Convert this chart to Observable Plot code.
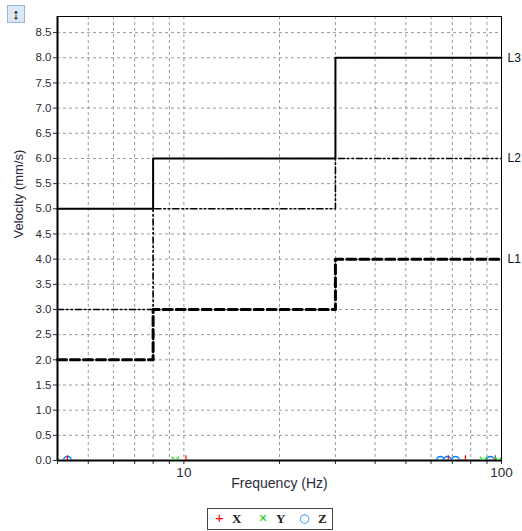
<!DOCTYPE html>
<html>
<head>
<meta charset="utf-8">
<script src="https://cdn.jsdelivr.net/npm/d3@7"></script>
<script src="https://cdn.jsdelivr.net/npm/@observablehq/plot@0.6"></script>
<style>
  html, body { margin: 0; padding: 0; background: #fff; }
  #wrap { position: relative; width: 522px; height: 531px; font-family: "Liberation Sans", Arial, sans-serif; }
  #btn { position: absolute; left: 7px; top: 5px; width: 18px; height: 18px; box-sizing: border-box;
         border: 1px solid #9db7d8; background: #dde8f5; font-size: 15px; font-weight: bold; line-height: 16px; text-align: center; color: #000; }
  #legend { position: absolute; left: 207px; top: 508px; width: 126px; height: 22px; box-sizing: border-box;
            border: 1px solid #444; font-family: "Liberation Serif", "Times New Roman", serif; font-weight: bold; font-size: 13px; }
  #legend span { position: absolute; top: 2px; }
</style>
</head>
<body>
<div id="wrap">
  <div id="chart"></div>
  <div id="btn">↕</div>
  <div id="legend">
    <span style="left:7px;color:#f00;font-family:'Liberation Sans',sans-serif;font-weight:normal;font-size:15px;top:0px">+</span>
    <span style="left:24px;color:#222">X</span>
    <span style="left:51px;color:#0c0;font-family:'Liberation Sans',sans-serif;font-weight:normal;font-size:14px;top:1px">×</span>
    <span style="left:68px;color:#222">Y</span>
    <span style="left:91px;color:#08f;font-family:'DejaVu Sans',sans-serif;font-weight:normal;font-size:12px;top:2px">○</span>
    <span style="left:110px;color:#222">Z</span>
  </div>
</div>
<script>
// Limit lines (frequency Hz, velocity mm/s), stepped
const freqSteps = [4, 8, 30, 100];
const L1 = [2, 3, 4, 4];
const L2 = [3, 5, 6, 6];
const L3 = [5, 6, 8, 8];

// Measured peaks at y = 0
const xFreq = [4.3, 10.15, 68.0, 77.0, 95.7];
const yFreq = [9.4, 87.8, 97.8];
const zFreq = [4.3, 64.2, 67.5, 71.6, 92.3];

const yTicks = d3.range(0, 8.51, 0.5);
const xMinor = [4, 5, 6, 7, 8, 9, 10, 20, 30, 40, 50, 60, 70, 80, 90, 100];
const xLabels = [10, 100];
const yTitle = "Velocity (mm/s)";
const xTitle = "Frequency (Hz)";

const toRows = (vals) => freqSteps.map((f, i) => ({f, v: vals[i]}));
const rows1 = toRows(L1), rows2 = toRows(L2), rows3 = toRows(L3);
const labels = [{name: "L3", v: L3[3]}, {name: "L2", v: L2[3]}, {name: "L1", v: L1[3]}];
const zeroRows = (arr) => arr.map(f => ({f, v: 0}));

const chart = Plot.plot({
  width: 522,
  height: 503,
  marginLeft: 57,
  marginRight: 21,
  marginTop: 16,
  marginBottom: 43,
  style: {fontFamily: "'Liberation Sans', Arial, sans-serif", fontSize: "11px", color: "#2a2a3a", background: "#fff", overflow: "visible"},
  x: {type: "log", domain: [4, 100]},
  y: {domain: [0, 8.82]},
  marks: [
    Plot.gridX(xMinor.filter(d => d > 4 && d < 100), {stroke: "#999", strokeOpacity: 1, strokeDasharray: "3,3"}),
    Plot.gridY(yTicks.filter(d => d > 0), {stroke: "#999", strokeOpacity: 1, strokeDasharray: "3,3"}),
    Plot.axisY(yTicks, {tickFormat: d3.format(".1f"), tickSize: 4, tickPadding: 2, label: null, fontSize: 11.5}),
    Plot.axisX(xMinor, {tickFormat: () => "", tickSize: 4, label: null}),
    Plot.text(xLabels, {x: d => d, text: d => String(d), frameAnchor: "bottom", dy: 16, fontSize: 13.5, fill: "#2a2a3a"}),
    Plot.text([yTitle], {frameAnchor: "left", dx: -39, rotate: -90, fontSize: 13, fill: "#2a2a3a"}),
    Plot.text([xTitle], {frameAnchor: "bottom", dy: 27, fontSize: 14, fill: "#2a2a3a"}),
    Plot.line(rows3, {x: "f", y: "v", curve: "step-after", stroke: "#000", strokeWidth: 2}),
    Plot.line(rows2, {x: "f", y: "v", curve: "step-after", stroke: "#000", strokeWidth: 1.6, strokeDasharray: "6,3,1.5,3,1.5,3"}),
    Plot.line(rows1, {x: "f", y: "v", curve: "step-after", stroke: "#000", strokeWidth: 3, strokeDasharray: "9,4"}),
    Plot.frame({stroke: "#000", strokeWidth: 1}),
    Plot.ruleX([4], {stroke: "#000", strokeWidth: 2}),
    Plot.ruleY([0], {stroke: "#000", strokeWidth: 2}),
    Plot.dot(zeroRows(zFreq), {x: "f", y: "v", r: 4, stroke: "#0a7cff", strokeWidth: 1.5, fill: "none", clip: true}),
    Plot.dot(zeroRows(xFreq), {x: "f", y: "v", symbol: "plus", r: 3.5, stroke: "#f00", strokeWidth: 1.2, clip: true}),
    Plot.dot(zeroRows(yFreq), {x: "f", y: "v", symbol: "times", r: 3.5, stroke: "#2d2", strokeWidth: 1.2, clip: true}),
    Plot.text(labels, {x: () => 100, y: "v", text: "name", dx: 6, textAnchor: "start", fill: "#111", fontSize: 12})
  ]
});
document.getElementById("chart").appendChild(chart);
</script>
</body>
</html>
